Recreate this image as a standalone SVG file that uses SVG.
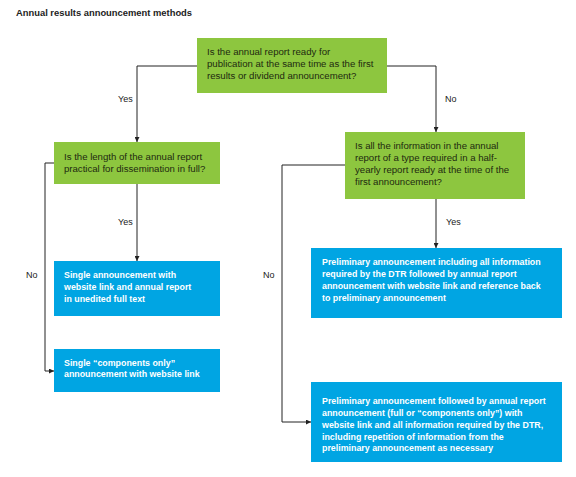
<svg xmlns="http://www.w3.org/2000/svg" width="576" height="477" viewBox="0 0 576 477">
<style>
.g{fill:#8dc63f}
.b{fill:#00a5e3}
.tg{font-family:"Liberation Sans",Arial,sans-serif;font-size:9.6px;fill:#1e2a10}
.tb{font-family:"Liberation Sans",Arial,sans-serif;font-size:8.85px;font-weight:bold;fill:#ffffff}
.lbl{font-family:"Liberation Sans",Arial,sans-serif;font-size:9px;fill:#222}
.title{font-family:"Liberation Sans",Arial,sans-serif;font-size:9.4px;font-weight:bold;fill:#222}
.c{fill:none;stroke:#222;stroke-width:1}
</style>
<defs>
<marker id="ah" viewBox="0 0 6 6" refX="6" refY="3" markerWidth="5" markerHeight="5" orient="auto" markerUnits="userSpaceOnUse">
<path d="M0,0 L6,3 L0,6 z" fill="#222"/>
</marker>
</defs>
<rect width="576" height="477" fill="#ffffff"/>
<text class="title" x="16" y="16">Annual results announcement methods</text>

<g id="connectors">
<path class="c" d="M197,66 H137 V142" marker-end="url(#ah)"/>
<path class="c" d="M387,66 H436 V132" marker-end="url(#ah)"/>
<path class="c" d="M137,184 V261" marker-end="url(#ah)"/>
<path class="c" d="M54,163 H45 V371 H54" marker-end="url(#ah)"/>
<path class="c" d="M436,199 V248" marker-end="url(#ah)"/>
<path class="c" d="M345,165 H282 V422 H311" marker-end="url(#ah)"/>
<text class="lbl" x="118" y="102">Yes</text>
<text class="lbl" x="445" y="102">No</text>
<text class="lbl" x="118" y="225">Yes</text>
<text class="lbl" x="446" y="225">Yes</text>
<text class="lbl" x="26" y="278">No</text>
<text class="lbl" x="263" y="278">No</text>
</g>

<g id="q1">
<rect class="g" x="197" y="38" width="190" height="55"/>
<text class="tg" x="207" y="55">Is the annual report ready for</text>
<text class="tg" x="207" y="67">publication at the same time as the first</text>
<text class="tg" x="207" y="79">results or dividend announcement?</text>
</g>

<g id="q2">
<rect class="g" x="54" y="142" width="166" height="42"/>
<text class="tg" x="64" y="160">Is the length of the annual report</text>
<text class="tg" x="64" y="172">practical for dissemination in full?</text>
</g>

<g id="q3">
<rect class="g" x="345" y="132" width="180" height="67"/>
<text class="tg" x="355" y="149">Is all the information in the annual</text>
<text class="tg" x="355" y="161">report of a type required in a half-</text>
<text class="tg" x="355" y="173">yearly report ready at the time of the</text>
<text class="tg" x="355" y="185">first announcement?</text>
</g>

<g id="r1">
<rect class="b" x="54" y="261" width="166" height="55"/>
<text class="tb" x="64" y="278">Single announcement with</text>
<text class="tb" x="64" y="290">website link and annual report</text>
<text class="tb" x="64" y="302">in unedited full text</text>
</g>

<g id="r2">
<rect class="b" x="54" y="349" width="166" height="43"/>
<text class="tb" x="64" y="366">Single “components only”</text>
<text class="tb" x="64" y="377">announcement with website link</text>
</g>

<g id="r3">
<rect class="b" x="311" y="248" width="251" height="70"/>
<text class="tb" x="322" y="265">Preliminary announcement including all information</text>
<text class="tb" x="322" y="277">required by the DTR followed by annual report</text>
<text class="tb" x="322" y="289">announcement with website link and reference back</text>
<text class="tb" x="322" y="301">to preliminary announcement</text>
</g>

<g id="r4">
<rect class="b" x="311" y="382" width="251" height="80"/>
<text class="tb" x="322" y="404">Preliminary announcement followed by annual report</text>
<text class="tb" x="322" y="416">announcement (full or “components only”) with</text>
<text class="tb" x="322" y="428">website link and all information required by the DTR,</text>
<text class="tb" x="322" y="440">including repetition of information from the</text>
<text class="tb" x="322" y="451">preliminary announcement as necessary</text>
</g>
</svg>
